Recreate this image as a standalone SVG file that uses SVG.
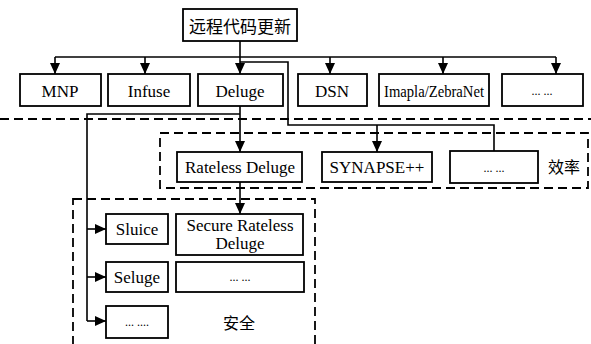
<svg xmlns="http://www.w3.org/2000/svg" width="591" height="344" viewBox="0 0 591 344">
<defs>
<marker id="ah" markerUnits="userSpaceOnUse" markerWidth="11" markerHeight="10" refX="11" refY="5" orient="auto">
<path d="M0,0 L11,5 L0,10 z" fill="#000"/>
</marker>
<style>
.box{fill:#fff;stroke:#000;stroke-width:1.8}
.dash{fill:none;stroke:#000;stroke-width:1.8;stroke-dasharray:9 5}
.ln{fill:none;stroke:#000;stroke-width:1.6}
.ar{fill:none;stroke:#000;stroke-width:1.6;marker-end:url(#ah)}
.t{font-family:"Liberation Serif","Times New Roman",serif;font-size:17px;fill:#000;text-anchor:middle}
.c{font-family:"Noto Sans CJK SC","Noto Sans CJK JP",sans-serif;font-size:16px;fill:#000;text-anchor:middle}
</style>
</defs>
<rect width="591" height="344" fill="#fff"/>
<g id="regions">
<line class="dash" x1="0" y1="119" x2="591" y2="119"/>
<rect class="dash" x="160" y="133" width="428" height="55"/>
<rect class="dash" x="73" y="199" width="242" height="160"/>
<text class="c" x="564" y="166" dominant-baseline="central">效率</text>
<text class="c" x="239" y="322" dominant-baseline="central">安全</text>
</g>
<g id="connectors">
<line class="ln" x1="240" y1="41" x2="240" y2="57"/>
<line class="ln" x1="55" y1="57" x2="556" y2="57"/>
<line class="ar" x1="55" y1="57" x2="55" y2="74"/>
<line class="ar" x1="145" y1="57" x2="145" y2="74"/>
<line class="ar" x1="240" y1="57" x2="240" y2="74"/>
<line class="ar" x1="330" y1="57" x2="330" y2="74"/>
<line class="ar" x1="443" y1="57" x2="443" y2="74"/>
<line class="ar" x1="556" y1="57" x2="556" y2="74"/>
<polyline class="ln" points="240,62 288,62 288,125 494,125 494,151"/>
<line class="ar" x1="377" y1="125" x2="377" y2="152"/>
<line class="ar" x1="240" y1="106" x2="240" y2="152"/>
<polyline class="ln" points="240,114 87,114 87,321"/>
<line class="ar" x1="87" y1="229" x2="106" y2="229"/>
<line class="ar" x1="87" y1="277" x2="106" y2="277"/>
<line class="ar" x1="87" y1="321" x2="106" y2="321"/>
<line class="ar" x1="240" y1="182" x2="240" y2="214"/>
</g>
<g id="n-root"><rect class="box" x="183" y="9" width="114" height="32"/><text class="c" x="240" y="25" dominant-baseline="central" style="font-size:17px">远程代码更新</text></g>
<g id="n-mnp"><rect class="box" x="20" y="74" width="81" height="32"/><text class="t" x="60" y="97">MNP</text></g>
<g id="n-infuse"><rect class="box" x="108" y="74" width="82" height="32"/><text class="t" x="149" y="97">Infuse</text></g>
<g id="n-deluge"><rect class="box" x="198" y="74" width="85" height="32"/><text class="t" x="240" y="97">Deluge</text></g>
<g id="n-dsn"><rect class="box" x="298" y="74" width="69" height="32"/><text class="t" x="332" y="97">DSN</text></g>
<g id="n-imapla"><rect class="box" x="379" y="74" width="110" height="32"/><text class="t" x="434" y="97" textLength="100" lengthAdjust="spacingAndGlyphs">Imapla/ZebraNet</text></g>
<g id="n-more1"><rect class="box" x="502" y="74" width="81" height="32"/><text class="t" x="542" y="95" style="font-size:12px">... ...</text></g>
<g id="n-rateless"><rect class="box" x="177" y="152" width="125" height="30"/><text class="t" x="240" y="173">Rateless Deluge</text></g>
<g id="n-synapse"><rect class="box" x="322" y="152" width="110" height="30"/><text class="t" x="377" y="173">SYNAPSE++</text></g>
<g id="n-more2"><rect class="box" x="450" y="151" width="88" height="32"/><text class="t" x="494" y="172" style="font-size:12px">... ...</text></g>
<g id="n-sluice"><rect class="box" x="106" y="214" width="62" height="30"/><text class="t" x="137" y="235">Sluice</text></g>
<g id="n-secure"><rect class="box" x="176" y="214" width="127" height="41"/><text class="t" x="240" y="231">Secure Rateless</text><text class="t" x="240" y="249">Deluge</text></g>
<g id="n-seluge"><rect class="box" x="106" y="262" width="62" height="30"/><text class="t" x="137" y="283">Seluge</text></g>
<g id="n-more3"><rect class="box" x="176" y="262" width="128" height="30"/><text class="t" x="240" y="281" style="font-size:12px">... ...</text></g>
<g id="n-more4"><rect class="box" x="106" y="306" width="62" height="32"/><text class="t" x="137" y="326" style="font-size:12px">... ....</text></g>
</svg>
